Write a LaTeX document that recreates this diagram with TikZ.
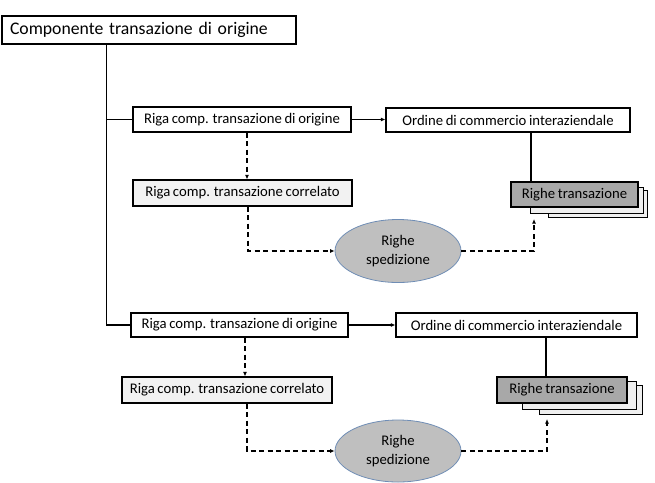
\documentclass[tikz,border=0pt]{standalone}
\usepackage{fontspec}
\setmainfont{Carlito}[WordSpace=0.8]
\usetikzlibrary{arrows.meta,shapes.geometric}
\definecolor{corrfill}{HTML}{F2F2F2}
\definecolor{rigfill}{HTML}{A8A8A8}
\definecolor{pagefill}{HTML}{EFEFEF}
\definecolor{ellfill}{HTML}{BFBFBF}
\definecolor{elledge}{HTML}{6F8DB5}
\tikzset{
  box/.style={draw, line width=1.1pt, fill=white, inner sep=0pt, font=\fontsize{14.7}{17}\selectfont},
  corrbox/.style={box, fill=corrfill},
  rigbox/.style={box, fill=rigfill},
  pagebox/.style={draw, line width=0.9pt, fill=pagefill, inner sep=0pt},
  ellnode/.style={ellipse, draw=elledge, line width=0.8pt, fill=ellfill, inner sep=0pt, align=center, font=\fontsize{14.7}{19}\selectfont},
  conn/.style={line width=1.2pt},
  arr/.style={line width=1.2pt, -{Latex[length=4.5pt,width=4pt]}},
  darr/.style={arr, dash pattern=on 5pt off 3.5pt}
}
\begin{document}
\begin{tikzpicture}[x=1pt,y=-1pt]
\useasboundingbox (0,0) rectangle (655,482);
% top box
\node[box, minimum height=28pt, text width=278pt, inner xsep=8pt, align=left, font=\fontsize{17.7}{20}\selectfont] (top) at (149,30) {Componente transazione di origine};
% group A
\node[box, minimum width=218pt, minimum height=25pt] (b1a) at (242,119.5) {Riga comp. transazione di origine};
\node[corrbox, minimum width=219pt, minimum height=26pt] (corrA) at (242.5,193) {Riga comp. transazione correlato};
\node[box, minimum width=244pt, minimum height=24pt] (ordA) at (508,120) {Ordine di commercio interaziendale};
\node[pagebox, minimum width=99pt, minimum height=27pt] (p3A) at (597.5,203.5) {};
\node[pagebox, minimum width=113pt, minimum height=26pt] (p2A) at (586.5,200) {};
\node[rigbox, minimum width=127pt, minimum height=25pt] (rtA) at (574.5,194.5) {Righe transazione};
\node[ellnode, minimum width=126pt, minimum height=63pt] (ellA) at (398,251) {Righe\\spedizione};
\coordinate (tA) at (534,219);
% group B
\node[box, minimum width=217pt, minimum height=24pt] (b1b) at (239.5,325) {Riga comp. transazione di origine};
\node[corrbox, minimum width=210pt, minimum height=26pt] (corrB) at (227,390) {Riga comp. transazione correlato};
\node[box, minimum width=241pt, minimum height=24pt] (ordB) at (516.5,325) {Ordine di commercio interaziendale};
\node[pagebox, minimum width=103pt, minimum height=29pt] (p3B) at (590.5,399.5) {};
\node[pagebox, minimum width=114pt, minimum height=28pt] (p2B) at (579,395) {};
\node[rigbox, minimum width=130pt, minimum height=26pt] (rtB) at (562,390) {Righe transazione};
\node[ellnode, minimum width=126pt, minimum height=62pt] (ellB) at (398,451) {Righe\\spedizione};
\coordinate (tB) at (547,419);
% trunk
\coordinate (trunk) at (106.5,325);
\draw[conn] (top.south -| trunk) -- (trunk) -- (b1b.west);
\draw[conn] (b1a.west -| trunk) -- (b1a.west);
% group A connectors
\draw[arr] (b1a.east) -- (b1a.east -| ordA.west);
\draw[darr] ([xshift=5pt]b1a.south) -- ([xshift=5pt]b1a.south |- corrA.north);
\draw[darr] ([xshift=5.5pt]corrA.south) |- (ellA.west);
\draw[darr] (ellA.east) -| (tA);
\draw[conn] ([xshift=23pt]ordA.south) -- ([xshift=23pt]ordA.south |- rtA.north);
% group B connectors
\draw[arr] (b1b.east) -- (b1b.east -| ordB.west);
\draw[darr] ([xshift=5.5pt]b1b.south) -- ([xshift=5.5pt]b1b.south |- corrB.north);
\draw[darr] ([xshift=20pt]corrB.south) |- (ellB.west);
\draw[darr] (ellB.east) -| (tB);
\draw[conn] ([xshift=29.5pt]ordB.south) -- ([xshift=29.5pt]ordB.south |- rtB.north);
\end{tikzpicture}
\end{document}
